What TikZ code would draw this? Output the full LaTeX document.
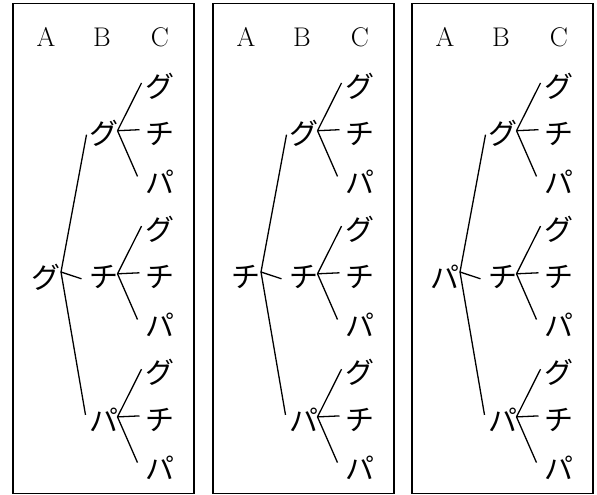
\documentclass[tikz,border=0pt]{standalone}
\usepackage{fontspec}
\newfontfamily\jpfont{Noto Sans CJK JP}
\begin{document}
\begin{tikzpicture}[x=1pt,y=-1pt,
  jn/.style={inner sep=0pt, font=\jpfont\fontsize{29}{34}\selectfont},
  ln/.style={inner sep=0pt, anchor=base, font=\fontsize{27}{32}\selectfont},
  br/.style={line width=1.3pt},
  frame/.style={line width=1.7pt}]
\useasboundingbox (0,0) rectangle (597,495);
\foreach \L/\R [count=\k] in {13/グ,213/チ,412/パ} {
  \draw[frame] (\L,3.5) rectangle ++(181,490);
  \node[ln] (a\k) at (\L+33,47) {A};
  \node[ln] (b\k) at (\L+89,47) {B};
  \node[ln] (c\k) at (\L+147,47) {C};
  \node[jn] (r\k) at (\L+33,277) {\R};
  \foreach \M/\ex/\ey [count=\j from 0] in {グ/-17/1,チ/-22/2,パ/-18/-5} {
    \node[jn] (m\k\j) at (\L+90.5,133.7+143.1*\j) {\M};
    \draw[br] ([shift={(15,-5)}]r\k.center) -- ([shift={(\ex,\ey)}]m\k\j.center);
    \foreach \T/\fx/\fy [count=\i from 0] in {グ/-18/-3,チ/-20/-4,パ/-22/-5} {
      \node[jn] (l\k\j\i) at (\L+146.5,86+47.7*\j*3+47.7*\i) {\T};
      \draw[br] ([shift={(14,-3)}]m\k\j.center) -- ([shift={(\fx,\fy)}]l\k\j\i.center);
    }
  }
}
\end{tikzpicture}
\end{document}
